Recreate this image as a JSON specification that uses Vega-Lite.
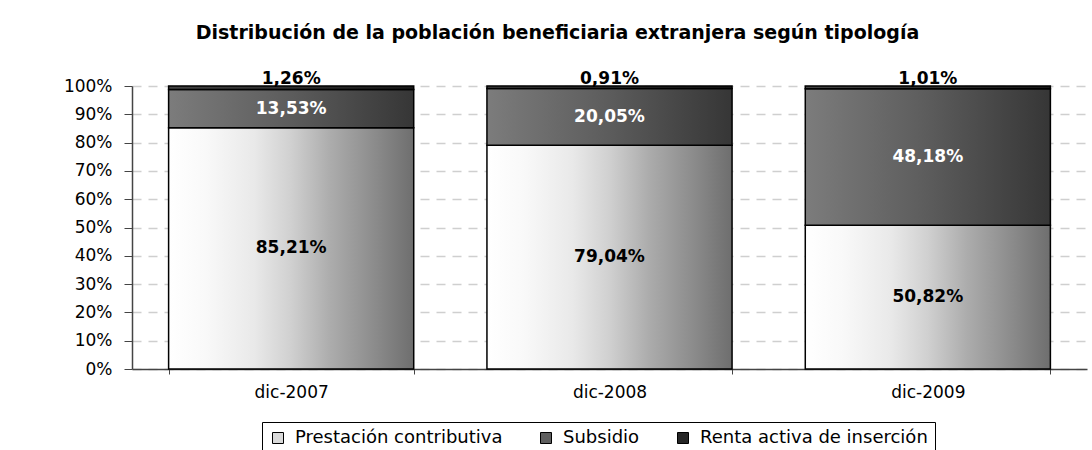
{
  "$schema": "https://vega.github.io/schema/vega-lite/v6.json",
  "width": 955,
  "height": 283,
  "autosize": {"type": "none"},
  "padding": {"left": 132, "top": 86, "right": 5, "bottom": 81},
  "background": "white",
  "config": {
    "view": {"stroke": null},
    "font": "DejaVu Sans",
    "locale": {"number": {"decimal": ",", "thousands": ".", "grouping": [3], "currency": ["", " €"]}},
    "axisY": {
      "labelOverlap": false,
      "labelFont": "DejaVu Sans",
      "labelFontSize": 17,
      "labelColor": "black",
      "labelPadding": 12,
      "tickSize": 8,
      "tickColor": "#444444",
      "domainColor": "#444444",
      "domainWidth": 1.5,
      "grid": true,
      "gridColor": "#cfcfcf",
      "gridDash": [9, 7],
      "gridWidth": 1.5
    }
  },
  "title": {
    "text": "Distribución de la población beneficiaria extranjera según tipología",
    "font": "DejaVu Sans",
    "fontSize": 19,
    "fontWeight": "bold",
    "color": "black",
    "anchor": "middle",
    "frame": "group",
    "dx": -52,
    "baseline": "alphabetic",
    "offset": 12
  },
  "data": {
    "values": [
      {"periodo": "dic-2007", "tipologia": "Prestación contributiva", "orden": 1, "valor": 0.8521},
      {"periodo": "dic-2007", "tipologia": "Subsidio", "orden": 2, "valor": 0.1353},
      {"periodo": "dic-2007", "tipologia": "Renta activa de inserción", "orden": 3, "valor": 0.0126},
      {"periodo": "dic-2008", "tipologia": "Prestación contributiva", "orden": 1, "valor": 0.7904},
      {"periodo": "dic-2008", "tipologia": "Subsidio", "orden": 2, "valor": 0.2005},
      {"periodo": "dic-2008", "tipologia": "Renta activa de inserción", "orden": 3, "valor": 0.0091},
      {"periodo": "dic-2009", "tipologia": "Prestación contributiva", "orden": 1, "valor": 0.5082},
      {"periodo": "dic-2009", "tipologia": "Subsidio", "orden": 2, "valor": 0.4818},
      {"periodo": "dic-2009", "tipologia": "Renta activa de inserción", "orden": 3, "valor": 0.0101}
    ]
  },
  "encoding": {
    "x": {
      "field": "periodo",
      "type": "nominal",
      "title": null,
      "scale": {"paddingInner": 0.23, "paddingOuter": 0.115},
      "axis": {
        "labelAngle": 0,
        "labelFont": "DejaVu Sans",
        "labelFontSize": 17,
        "labelColor": "black",
        "labelPadding": 10,
        "domainColor": "#444444",
        "domainWidth": 1.5,
        "tickBand": "extent",
        "tickColor": "#444444",
        "tickSize": 5,
        "grid": false
      }
    }
  },
  "layer": [
    {
      "mark": {"type": "bar"},
      "encoding": {
        "y": {
          "field": "valor",
          "type": "quantitative",
          "stack": "zero",
          "title": null,
          "scale": {"domain": [0, 1], "nice": false},
          "axis": {"values": [0, 0.1, 0.2, 0.3, 0.4, 0.5, 0.6, 0.7, 0.8, 0.9, 1], "format": ".0%", "title": null}
        },
        "order": {"field": "orden", "type": "quantitative"},
        "color": {
          "field": "tipologia",
          "type": "nominal",
          "scale": {
            "domain": ["Prestación contributiva", "Subsidio", "Renta activa de inserción"],
            "range": ["#d9d9d9", "#5e5e5e", "#262626"]
          },
          "legend": {
            "title": null,
            "orient": "none",
            "legendX": 130,
            "legendY": 336,
            "direction": "horizontal",
            "symbolType": "square",
            "symbolSize": 121,
            "symbolStrokeColor": "black",
            "symbolStrokeWidth": 1,
            "symbolOpacity": 1,
            "labelFont": "DejaVu Sans",
            "labelFontSize": 18,
            "labelColor": "black",
            "labelOffset": 8,
            "strokeColor": "black",
            "fillColor": "white",
            "padding": 7,
            "columnPadding": 34,
            "labelLimit": 400
          }
        }
      }
    },
    {
      "transform": [
        {"stack": "valor", "groupby": ["periodo"], "sort": [{"field": "orden", "order": "ascending"}], "as": ["y0", "y1"]},
        {"filter": "datum.orden == 1"}
      ],
      "mark": {
        "type": "bar", "stroke": "black", "strokeWidth": 1.5,
        "fill": {"gradient": "linear", "x1": 0, "y1": 0, "x2": 1, "y2": 0, "stops": [
          {"offset": 0, "color": "#ffffff"},
          {"offset": 0.15, "color": "#f9f9f9"},
          {"offset": 0.35, "color": "#e9e9e9"},
          {"offset": 0.5, "color": "#d0d0d0"},
          {"offset": 0.66, "color": "#acacac"},
          {"offset": 0.85, "color": "#8a8a8a"},
          {"offset": 1, "color": "#6e6e6e"}]}
      },
      "encoding": {
        "y": {"field": "y1", "type": "quantitative", "title": null, "axis": {"values": [0, 0.1, 0.2, 0.3, 0.4, 0.5, 0.6, 0.7, 0.8, 0.9, 1], "format": ".0%", "title": null}},
        "y2": {"field": "y0"}
      }
    },
    {
      "transform": [
        {"stack": "valor", "groupby": ["periodo"], "sort": [{"field": "orden", "order": "ascending"}], "as": ["y0", "y1"]},
        {"filter": "datum.orden == 2"}
      ],
      "mark": {
        "type": "bar", "stroke": "black", "strokeWidth": 1.5,
        "fill": {"gradient": "linear", "x1": 0, "y1": 0, "x2": 1, "y2": 0, "stops": [
          {"offset": 0, "color": "#7c7c7c"},
          {"offset": 0.5, "color": "#5c5c5c"},
          {"offset": 1, "color": "#363636"}]}
      },
      "encoding": {
        "y": {"field": "y1", "type": "quantitative", "title": null, "axis": {"values": [0, 0.1, 0.2, 0.3, 0.4, 0.5, 0.6, 0.7, 0.8, 0.9, 1], "format": ".0%", "title": null}},
        "y2": {"field": "y0"}
      }
    },
    {
      "transform": [
        {"stack": "valor", "groupby": ["periodo"], "sort": [{"field": "orden", "order": "ascending"}], "as": ["y0", "y1"]},
        {"filter": "datum.orden == 3"}
      ],
      "mark": {
        "type": "bar", "stroke": "black", "strokeWidth": 1.5,
        "fill": {"gradient": "linear", "x1": 0, "y1": 0, "x2": 1, "y2": 0, "stops": [
          {"offset": 0, "color": "#444444"},
          {"offset": 1, "color": "#181818"}]}
      },
      "encoding": {
        "y": {"field": "y1", "type": "quantitative", "title": null, "axis": {"values": [0, 0.1, 0.2, 0.3, 0.4, 0.5, 0.6, 0.7, 0.8, 0.9, 1], "format": ".0%", "title": null}},
        "y2": {"field": "y0"}
      }
    },
    {
      "transform": [{"filter": "datum.orden < 3"}],
      "mark": {"type": "text", "font": "DejaVu Sans", "fontSize": 17, "fontWeight": "bold", "baseline": "middle"},
      "encoding": {
        "y": {"field": "valor", "type": "quantitative", "stack": "zero", "bandPosition": 0.5, "title": null, "axis": {"values": [0, 0.1, 0.2, 0.3, 0.4, 0.5, 0.6, 0.7, 0.8, 0.9, 1], "format": ".0%", "title": null}},
        "order": {"field": "orden", "type": "quantitative"},
        "text": {"field": "valor", "type": "quantitative", "format": ".2%"},
        "color": {"condition": {"test": "datum.orden == 2", "value": "white"}, "value": "black"}
      }
    },
    {
      "transform": [{"filter": "datum.orden == 3"}],
      "mark": {"type": "text", "font": "DejaVu Sans", "fontSize": 17, "fontWeight": "bold", "baseline": "alphabetic", "dy": -2, "color": "black"},
      "encoding": {
        "y": {"datum": 1, "type": "quantitative", "title": null, "axis": {"values": [0, 0.1, 0.2, 0.3, 0.4, 0.5, 0.6, 0.7, 0.8, 0.9, 1], "format": ".0%", "title": null}},
        "text": {"field": "valor", "type": "quantitative", "format": ".2%"}
      }
    }
  ]
}
